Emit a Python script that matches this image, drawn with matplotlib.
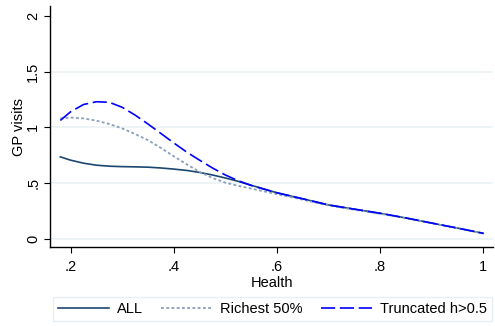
import matplotlib
matplotlib.use("Agg")
import matplotlib.pyplot as plt

# Health grid and fitted GP visits for each sample
health = [0.18, 0.20, 0.225, 0.25, 0.275, 0.30, 0.325, 0.35, 0.375, 0.40,
          0.425, 0.45, 0.475, 0.50, 0.525, 0.55, 0.60, 0.65, 0.70, 0.75,
          0.80, 0.85, 0.90, 0.95, 1.00]

gp_all = [0.735, 0.705, 0.678, 0.660, 0.651, 0.647, 0.645, 0.642, 0.635, 0.625,
          0.613, 0.595, 0.572, 0.545, 0.515, 0.480, 0.412, 0.358, 0.303, 0.265,
          0.228, 0.186, 0.140, 0.095, 0.048]

gp_rich = [1.080, 1.088, 1.080, 1.060, 1.030, 0.990, 0.940, 0.885, 0.815, 0.740,
           0.668, 0.600, 0.545, 0.503, 0.475, 0.450, 0.400, 0.350, 0.298, 0.260,
           0.224, 0.183, 0.138, 0.093, 0.046]

gp_trunc = [1.062, 1.140, 1.205, 1.230, 1.225, 1.180, 1.110, 1.030, 0.945, 0.860,
            0.778, 0.705, 0.635, 0.572, 0.520, 0.478, 0.412, 0.358, 0.303, 0.265,
            0.228, 0.186, 0.140, 0.095, 0.048]

series = ["ALL", "Richest 50%", "Truncated h>0.5"]
xticks = [0.2, 0.4, 0.6, 0.8, 1.0]
xtick_labels = [".2", ".4", ".6", ".8", "1"]
yticks = [0, 0.5, 1, 1.5, 2]
ytick_labels = ["0", ".5", "1", "1.5", "2"]

plt.rcParams['font.family'] = ['Liberation Sans', 'DejaVu Sans']
plt.rcParams['font.size'] = 10.5

fig = plt.figure(figsize=(4.95, 3.26), dpi=100)
fig.patch.set_facecolor('white')
ax = fig.add_axes([0.101, 0.2423, 0.895, 0.7393])
ax.set_facecolor('white')

# light horizontal grid, no vertical grid
for y in [0, 0.5, 1, 1.5]:
    ax.axhline(y, color='#eaf1f3', lw=1.1, zorder=0)

l1, = ax.plot(health, gp_all, color='#1a476f', lw=1.2, label=series[0])
l2, = ax.plot(health, gp_rich, color='#8a9fbd', lw=1.3, label=series[1])
l2.set_dashes((1.6, 1.3))
l3, = ax.plot(health, gp_trunc, color='#0000ff', lw=1.2, label=series[2])
l3.set_dashes((8.5, 2.8))

ax.set_xlim(0.16, 1.019)
ax.set_ylim(-0.075, 2.09)

ax.set_xticks(xticks)
ax.set_xticklabels(xtick_labels)
ax.set_yticks(yticks)
ax.set_yticklabels(ytick_labels, rotation=90, va='center')
ax.tick_params(direction='out', length=4, width=0.8, color='black')
ax.tick_params(axis='x', pad=5.5)
ax.tick_params(axis='y', pad=3)

for side in ['top', 'right']:
    ax.spines[side].set_visible(False)
for side in ['left', 'bottom']:
    ax.spines[side].set_linewidth(1.0)
    ax.spines[side].set_color('black')

ax.set_xlabel('Health', labelpad=1.5)
ax.set_ylabel('GP visits', labelpad=0)

leg = fig.legend(handles=[l1, l2, l3], loc='center', bbox_to_anchor=(0.5505, 0.052),
                 ncol=3, frameon=True, fancybox=False, handlelength=3.5,
                 handletextpad=0.55, columnspacing=1.25, borderpad=0.35,
                 edgecolor='#e3eaee')
leg.get_frame().set_linewidth(1.0)

fig.savefig('out.png', dpi=100)
